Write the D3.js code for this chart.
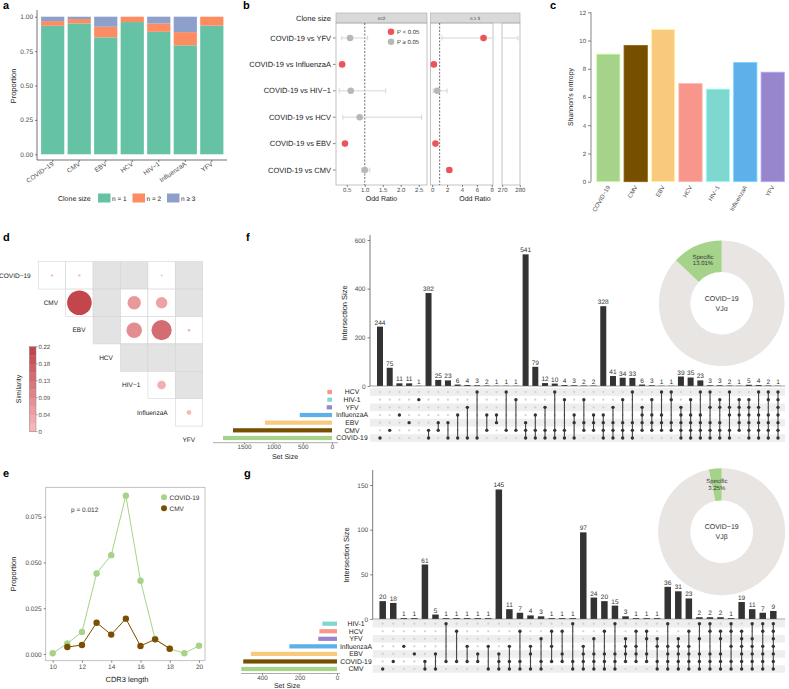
<!DOCTYPE html>
<html>
<head>
<meta charset="utf-8">
<script src="https://cdn.jsdelivr.net/npm/d3@7.9.0/dist/d3.min.js"></script>
<style>
  body { margin: 0; background: #fff; }
  svg { display: block; font-family: "Liberation Sans", Arial, sans-serif; text-rendering: geometricPrecision; -webkit-font-smoothing: antialiased; }
</style>
</head>
<body>
<svg id="fig" width="789" height="689"></svg>
<script>
// ---- data ----
const viruses = ['COVID-19', 'CMV', 'EBV', 'HCV', 'HIV-1', 'InfluenzaA', 'YFV'];
const virusLabels = ['COVID−19', 'CMV', 'EBV', 'HCV', 'HIV−1', 'InfluenzaA', 'YFV'];
const virusColors = ['#a6d38a', '#774f00', '#f9ca7d', '#f9968b', '#7fd8d0', '#5eb0ea', '#9886cd'];

// a: clone size proportions
const cloneN1 = [0.934, 0.951, 0.850, 0.961, 0.890, 0.792, 0.935];
const cloneN2 = [0.034, 0.032, 0.077, 0.039, 0.061, 0.096, 0.065];
const cloneN3 = [0.032, 0.017, 0.073, 0.000, 0.049, 0.112, 0.000];
const cloneKeys = ['n = 1', 'n = 2', 'n ≥ 3'];
const cloneColors = ['#66c2a5', '#fc8d62', '#8da0cb'];

// b: odd ratios
const orPairs = ['COVID-19 vs YFV', 'COVID-19 vs InfluenzaA', 'COVID-19 vs HIV−1',
  'COVID-19 vs HCV', 'COVID-19 vs EBV', 'COVID-19 vs CMV'];
const orN2 = [0.59, 0.37, 0.61, 0.86, 0.45, 1.00];
const orN2Lo = [0.36, 0.33, 0.29, 0.39, 0.41, 0.91];
const orN2Hi = [1.08, 0.42, 1.58, 2.58, 0.50, 1.14];
const orN2Sig = [false, true, false, false, true, false];
const orN3 = [6.9, 0.22, 0.67, null, 0.44, 2.3];
const orN3Lo = [1.3, 0.12, 0.13, null, 0.32, 2.0];
const orN3Hi = [279, 0.33, 2.0, null, 0.58, 2.6];
const orN3Sig = [true, true, false, null, true, true];

// c: Shannon entropy
const entropy = [9.04, 9.65, 10.78, 6.96, 6.56, 8.45, 7.76];

// d: similarity (upper triangle, row i starts at column i, null = not significant)
const simRows = ['COVID−19', 'CMV', 'EBV', 'HCV', 'HIV−1', 'InfluenzaA'];
const simCols = ['CMV', 'EBV', 'HCV', 'HIV−1', 'InfluenzaA', 'YFV'];
const simValues = [
  [0.002, 0.002, null, null, 0.001, null],
  [0.21, null, 0.063, 0.046, null],
  [null, 0.084, 0.141, 0.003],
  [null, null, null],
  [0.026, null],
  [0.008]
];
const simTicks = [0, 0.044, 0.088, 0.132, 0.176, 0.22];

// e: CDR3 length distribution
const cdr3Len = [10, 11, 12, 13, 14, 15, 16, 17, 18, 19, 20];
const cdr3Covid = [0.0004, 0.0058, 0.012, 0.044, 0.054, 0.0865, 0.040, 0.0082, 0.0029, 0.0004, 0.0045];
const cdr3CmvLen = [11, 12, 13, 14, 15, 16, 17, 18];
const cdr3Cmv = [0.0038, 0.0049, 0.0171, 0.0106, 0.0193, 0.0044, 0.008, 0.0029];

// f: UpSet VJα
const fSets = ['HCV', 'HIV-1', 'YFV', 'InfluenzaA', 'EBV', 'CMV', 'COVID-19'];
const fSetColors = ['#f9968b', '#7fd8d0', '#9886cd', '#5eb0ea', '#f9ca7d', '#774f00', '#a6d38a'];
const fSetSizes = [80, 80, 90, 550, 1145, 1690, 1860];
const fCounts = [244, 75, 11, 11, 1, 382, 25, 23, 6, 4, 3, 2, 1, 1, 1,
  541, 79, 12, 10, 4, 3, 2, 2, 328, 41, 34, 33, 6, 3, 1, 1,
  39, 35, 23, 3, 3, 2, 1, 5, 4, 2, 1];
const fMembers = ['6', '5', '3', '4', '1', '56', '45', '46', '36', '26', '06', '35', '34', '05', '15',
  '456', '356', '256', '056', '156', '346', '145', '345',
  '3456', '2456', '1456', '0456', '2345', '1345', '0345', '0145',
  '23456', '13456', '03456', '02456', '12456', '02356', '12345',
  '123456', '023456', '013456', '0123456'];

// g: UpSet VJβ
const gSets = ['HIV-1', 'HCV', 'YFV', 'InfluenzaA', 'EBV', 'COVID-19', 'CMV'];
const gSetColors = ['#7fd8d0', '#f9968b', '#9886cd', '#5eb0ea', '#f9ca7d', '#774f00', '#a6d38a'];
const gSetSizes = [78, 94, 100, 254, 459, 500, 510];
const gCounts = [20, 18, 1, 1, 61, 5, 1, 1, 1, 1, 1, 145, 11, 7, 4, 3, 1, 1, 1,
  97, 24, 20, 15, 3, 1, 1, 1, 36, 31, 23, 2, 2, 2, 1, 19, 11, 7, 9];
const gMembers = ['6', '5', '3', '4', '56', '46', '05', '15', '35', '45', '36',
  '456', '356', '156', '346', '256', '135', '145', '056',
  '3456', '2456', '1456', '0456', '2345', '1345', '1245', '2356',
  '03456', '23456', '13456', '02456', '01456', '12456', '01356',
  '123456', '023456', '013456', '0123456'];

const specificPct = [13.01, 3.25];

// ---- helpers ----
const svg = d3.select('#fig');
svg.append('rect').attr('width', 789).attr('height', 689).attr('fill', '#fff');
const TICK = '#4d4d4d';

function addText(parent, x, y, s, o = {}) {
  const t = parent.append('text').attr('x', x).attr('y', y).text(s)
    .attr('font-size', o.size || 7)
    .attr('fill', o.fill || '#1a1a1a')
    .attr('text-anchor', o.anchor || 'start');
  if (o.weight) t.attr('font-weight', o.weight);
  if (o.rotate != null) t.attr('transform', `rotate(${o.rotate},${x},${y})`);
  return t;
}

function styleAxis(sel, fs = 6.5) {
  sel.attr('font-family', null).attr('font-size', null);
  sel.selectAll('text').attr('font-size', fs).attr('fill', TICK);
  sel.selectAll('.tick line').attr('stroke', '#333').attr('stroke-width', 0.6);
  sel.select('.domain').remove();
  return sel;
}

function vline(parent, x, y1, y2, col = '#333', w = 0.7) {
  return parent.append('line').attr('x1', x).attr('x2', x).attr('y1', y1).attr('y2', y2)
    .attr('stroke', col).attr('stroke-width', w);
}
function hline(parent, y, x1, x2, col = '#333', w = 0.7) {
  return parent.append('line').attr('x1', x1).attr('x2', x2).attr('y1', y).attr('y2', y)
    .attr('stroke', col).attr('stroke-width', w);
}

// panel letters
[['a', 3, 9], ['b', 243, 9], ['c', 550, 9], ['d', 3, 241], ['f', 246, 241], ['e', 3, 477], ['g', 244, 477]]
  .forEach(([s, x, y]) => addText(svg, x, y, s, { size: 11, weight: 'bold', fill: '#000' }));

// ---- a: stacked clone size ----
{
  const g = svg.append('g');
  const x = d3.scaleBand().domain(viruses).range([39.5, 225]).paddingInner(0.125).paddingOuter(0.06);
  const y = d3.scaleLinear().domain([0, 1]).range([154.3, 16.7]);
  const table = viruses.map((v, i) => ({ v, 'n = 1': cloneN1[i], 'n = 2': cloneN2[i], 'n ≥ 3': cloneN3[i] }));
  const series = d3.stack().keys(cloneKeys)(table);
  g.selectAll('g.layer').data(series).join('g').attr('fill', (d, i) => cloneColors[i])
    .selectAll('rect').data(d => d.filter(p => p[1] - p[0] > 0)).join('rect')
    .attr('x', d => x(d.data.v)).attr('width', x.bandwidth())
    .attr('y', d => y(d[1])).attr('height', d => y(d[0]) - y(d[1]));

  const ay = g.append('g').attr('transform', 'translate(37,0)')
    .call(d3.axisLeft(y).tickValues([0, 0.25, 0.5, 0.75, 1]).tickFormat(d3.format('.2f')).tickSize(2).tickPadding(2));
  styleAxis(ay);
  vline(g, 37, 10, 160);
  hline(g, 160, 37, 227);
  viruses.forEach((v, i) => {
    const cx = x(v) + x.bandwidth() / 2;
    vline(g, cx, 160, 162, '#333', 0.6);
    addText(g, cx + 1.5, 165, virusLabels[i], { size: 6.5, fill: TICK, anchor: 'end', rotate: -35 });
  });
  addText(g, 16, 86, 'Proportion', { size: 7.5, anchor: 'middle', rotate: -90 });

  addText(g, 58, 201, 'Clone size', { size: 7 });
  const legX = [98, 132.5, 167];
  cloneKeys.forEach((k, i) => {
    g.append('rect').attr('x', legX[i]).attr('y', 193.5).attr('width', 12.5).attr('height', 9).attr('fill', cloneColors[i]);
    addText(g, legX[i] + 14, 201, k, { size: 6.5 });
  });
}

// ---- b: odd ratio forest ----
{
  const g = svg.append('g');
  const top = 23, bot = 185;
  const y = d3.scalePoint().domain(orPairs).range([38, 170]);
  const x1 = d3.scaleLinear().domain([0.2, 2.73]).range([336, 427]);
  const x2 = d3.scaleLinear().domain([-0.23, 8.17]).range([430.5, 493]);
  const x3 = d3.scaleLinear().domain([269.9, 280.1]).range([502, 520]);
  const red = '#ee5359', grey = '#b8b8b8', ci = '#d6d6d6';

  // strips and panel frames
  g.append('rect').attr('x', 336).attr('y', 13).attr('width', 91).attr('height', 10).attr('fill', '#d9d9d9').attr('stroke', '#b3b3b3').attr('stroke-width', 0.7);
  g.append('rect').attr('x', 430.5).attr('y', 13).attr('width', 89.5).attr('height', 10).attr('fill', '#d9d9d9').attr('stroke', '#b3b3b3').attr('stroke-width', 0.7);
  addText(g, 381.5, 19.8, 'n=2', { size: 4.5, anchor: 'middle', fill: '#333' });
  addText(g, 475, 19.8, 'n ≥ 3', { size: 4.5, anchor: 'middle', fill: '#333' });
  addText(g, 331, 21, 'Clone size', { size: 7.5, anchor: 'end' });
  [[336, 427], [430.5, 493], [502, 520]].forEach(([a, b]) =>
    g.append('rect').attr('x', a).attr('y', top).attr('width', b - a).attr('height', bot - top)
      .attr('fill', 'none').attr('stroke', '#b3b3b3').attr('stroke-width', 0.8));

  // row labels
  orPairs.forEach(p => {
    addText(g, 331, y(p) + 2.5, p, { size: 7.5, anchor: 'end' });
    hline(g, y(p), 333, 335.5, '#333', 0.6);
  });

  // dashed reference lines
  vline(g, x1(1), top, bot, '#333', 0.7).attr('stroke-dasharray', '2,1.5');
  vline(g, x2(1), top, bot, '#333', 0.7).attr('stroke-dasharray', '2,1.5');

  function errBar(xs, lo, hi, yy) {
    hline(g, yy, xs(lo), xs(hi), ci, 1);
    vline(g, xs(lo), yy - 2.5, yy + 2.5, ci, 1);
    vline(g, xs(hi), yy - 2.5, yy + 2.5, ci, 1);
  }
  orPairs.forEach((p, i) => {
    const yy = y(p);
    errBar(x1, orN2Lo[i], orN2Hi[i], yy);
    g.append('circle').attr('cx', x1(orN2[i])).attr('cy', yy).attr('r', 3.3).attr('fill', orN2Sig[i] ? red : grey);
    if (orN3[i] != null) {
      if (orN3Hi[i] > 8.17) {
        hline(g, yy, x2(orN3Lo[i]), 493, ci, 1);
        vline(g, x2(orN3Lo[i]), yy - 2.5, yy + 2.5, ci, 1);
        hline(g, yy, 502, x3(orN3Hi[i]), ci, 1);
        vline(g, x3(orN3Hi[i]), yy - 2.5, yy + 2.5, ci, 1);
      } else {
        errBar(x2, orN3Lo[i], orN3Hi[i], yy);
      }
      g.append('circle').attr('cx', x2(orN3[i])).attr('cy', yy).attr('r', 3.3).attr('fill', orN3Sig[i] ? red : grey);
    }
  });

  // legend
  g.append('circle').attr('cx', 391).attr('cy', 31.7).attr('r', 3.3).attr('fill', red);
  addText(g, 397, 34, 'P < 0.05', { size: 6, fill: '#333' });
  g.append('circle').attr('cx', 391).attr('cy', 41.7).attr('r', 3.3).attr('fill', grey);
  addText(g, 397, 44, 'P ≥ 0.05', { size: 6, fill: '#333' });

  // x axes
  const a1 = g.append('g').attr('transform', `translate(0,${bot})`).call(d3.axisBottom(x1).tickValues([0.5, 1, 1.5, 2, 2.5]).tickFormat(d3.format('.1f')).tickSize(2).tickPadding(1));
  const a2 = g.append('g').attr('transform', `translate(0,${bot})`).call(d3.axisBottom(x2).tickValues([0, 2, 4, 6, 8]).tickSize(2).tickPadding(1));
  const a3 = g.append('g').attr('transform', `translate(0,${bot})`).call(d3.axisBottom(x3).tickValues([270, 280]).tickSize(2).tickPadding(1));
  [a1, a2, a3].forEach(a => styleAxis(a, 6));
  addText(g, 381.5, 200.5, 'Odd Ratio', { size: 7, anchor: 'middle' });
  addText(g, 475, 200.5, 'Odd Ratio', { size: 7, anchor: 'middle' });
}

// ---- c: Shannon entropy bars ----
{
  const g = svg.append('g');
  const x = d3.scaleBand().domain(viruses).range([594.6, 786.4]).paddingInner(0.15).paddingOuter(0.075);
  const y = d3.scaleLinear().domain([0, 12]).range([181.7, 12.3]);
  g.selectAll('rect').data(entropy).join('rect')
    .attr('x', (d, i) => x(viruses[i])).attr('width', x.bandwidth())
    .attr('y', d => y(d)).attr('height', d => y(0) - y(d))
    .attr('fill', (d, i) => virusColors[i])
    .attr('stroke', (d, i) => d3.color(virusColors[i]).brighter(0.6)).attr('stroke-width', 0.8);
  const ay = g.append('g').attr('transform', 'translate(591,0)')
    .call(d3.axisLeft(y).tickValues(d3.range(0, 13, 2)).tickSize(3).tickPadding(2));
  styleAxis(ay, 6);
  vline(g, 591, 12.3, 181.7, '#555', 0.7);
  viruses.forEach((v, i) => {
    addText(g, x(v) + x.bandwidth() / 2 + 2, 187, virusLabels[i], { size: 6, fill: TICK, anchor: 'end', rotate: -60 });
  });
  addText(g, 573, 97, "Shannon's entropy", { size: 7, anchor: 'middle', rotate: -90 });
}

// ---- d: similarity triangle ----
{
  const g = svg.append('g');
  const cx = d3.scaleBand().domain(simCols).range([38.3, 202.7]);
  const ry = d3.scaleBand().domain(simRows).range([261.7, 426.1]);
  const s = cx.bandwidth();
  const col = d3.scaleLinear().domain([0, 0.22]).range(['#f9bdbf', '#bf4046']);
  const rad = d3.scaleSqrt().domain([0, 0.22]).range([0, 12.6]);
  simRows.forEach((r, i) => {
    simValues[i].forEach((v, k) => {
      const c = simCols[i + k];
      g.append('rect').attr('x', cx(c)).attr('y', ry(r)).attr('width', s).attr('height', s)
        .attr('fill', v == null ? '#e3e3e3' : '#fff').attr('stroke', '#d4d4d4').attr('stroke-width', 0.6);
      if (v != null) {
        g.append('circle').attr('cx', cx(c) + s / 2).attr('cy', ry(r) + s / 2)
          .attr('r', Math.max(rad(v), 0.9)).attr('fill', col(v));
      }
    });
  });
  // diagonal labels
  const diag = ['COVID−19', 'CMV', 'EBV', 'HCV', 'HIV−1', 'InfluenzaA', 'YFV'];
  diag.forEach((lab, i) => {
    const right = 38.3 + s * i - 7.6;
    addText(g, right, 261.7 + s * i + s / 2 + 2.2, lab, { size: 6.5, anchor: 'end' });
  });
  // colorbar
  const cb = d3.scaleLinear().domain([0, 0.22]).range([431.7, 346.7]);
  const steps = d3.range(0, 0.22, 0.022);
  steps.forEach(v => {
    g.append('rect').attr('x', 29.3).attr('width', 6.7).attr('y', cb(v + 0.022)).attr('height', cb(v) - cb(v + 0.022) + 0.3)
      .attr('fill', col(v + 0.011));
  });
  g.append('rect').attr('x', 29.3).attr('y', 346.7).attr('width', 6.7).attr('height', 85).attr('fill', 'none').attr('stroke', '#888').attr('stroke-width', 0.5);
  simTicks.forEach(t => {
    hline(g, cb(t), 36, 37.5, '#555', 0.5);
    addText(g, 38.5, cb(t) + 2.2, t === 0 ? '0' : d3.format('.2f')(t), { size: 6, fill: TICK });
  });
  addText(g, 21, 389, 'Similarity', { size: 7, anchor: 'middle', rotate: -90 });
}

// ---- e: CDR3 length ----
{
  const g = svg.append('g');
  const x = d3.scaleLinear().domain([10, 20]).range([52.7, 199]);
  const y = d3.scaleLinear().domain([0, 0.075]).range([654, 516.7]);
  const green = '#a6d38a', brown = '#7b4f00';
  g.append('rect').attr('x', 45.7).attr('y', 487.3).attr('width', 159.3).attr('height', 173.4)
    .attr('fill', 'none').attr('stroke', '#b3b3b3').attr('stroke-width', 0.8);
  const line = d3.line().x(d => x(d[0])).y(d => y(d[1]));
  const covid = cdr3Len.map((l, i) => [l, cdr3Covid[i]]);
  const cmv = cdr3CmvLen.map((l, i) => [l, cdr3Cmv[i]]);
  g.append('path').attr('d', line(covid)).attr('fill', 'none').attr('stroke', green).attr('stroke-width', 1);
  g.selectAll('circle.cv').data(covid).join('circle').attr('cx', d => x(d[0])).attr('cy', d => y(d[1])).attr('r', 3.2).attr('fill', green);
  g.append('path').attr('d', line(cmv)).attr('fill', 'none').attr('stroke', brown).attr('stroke-width', 1);
  g.selectAll('circle.cm').data(cmv).join('circle').attr('cx', d => x(d[0])).attr('cy', d => y(d[1])).attr('r', 3.2).attr('fill', brown);

  const ax = g.append('g').attr('transform', 'translate(0,660.7)')
    .call(d3.axisBottom(x).tickValues(d3.range(10, 21, 2)).tickSize(2).tickPadding(2));
  const ay = g.append('g').attr('transform', 'translate(45.7,0)')
    .call(d3.axisLeft(y).tickValues([0, 0.025, 0.05, 0.075]).tickFormat(d3.format('.3f')).tickSize(2).tickPadding(2));
  styleAxis(ax); styleAxis(ay);
  addText(g, 127, 682, 'CDR3 length', { size: 7.5, anchor: 'middle' });
  addText(g, 16, 574, 'Proportion', { size: 7.5, anchor: 'middle', rotate: -90 });
  addText(g, 71, 511.5, 'p = 0.012', { size: 6.5, fill: '#333' });
  g.append('circle').attr('cx', 164).attr('cy', 497.3).attr('r', 3).attr('fill', green);
  addText(g, 169.5, 499.7, 'COVID-19', { size: 6.5, fill: '#333' });
  g.append('circle').attr('cx', 164).attr('cy', 508.3).attr('r', 3).attr('fill', brown);
  addText(g, 169.5, 510.7, 'CMV', { size: 6.5, fill: '#333' });
}

// ---- f / g: UpSet plots ----
function drawUpset(o) {
  const g = svg.append('g');
  const x = d3.scalePoint().domain(d3.range(o.counts.length)).range(o.xRange);
  const y = d3.scaleLinear().domain([0, o.yMax]).range([o.base, o.yTop]);
  const row = d3.scalePoint().domain(o.sets).range(o.rowRange);
  const rh = (o.rowRange[1] - o.rowRange[0]) / (o.sets.length - 1);
  const sx = d3.scaleLinear().domain(o.setDomain).range([o.setZero, o.setZero - (o.setDomain[1]) * o.setPx]);

  // row shading
  o.sets.forEach((s, i) => {
    if (i % 2 === 0) g.append('rect').attr('x', o.shade[0]).attr('width', o.shade[1] - o.shade[0])
      .attr('y', row(s) - rh / 2).attr('height', rh).attr('fill', '#eeeeee');
  });

  // intersection bars
  const bw = o.barW;
  g.selectAll('rect.bar').data(o.counts).join('rect').attr('class', 'bar')
    .attr('x', (d, i) => x(i) - bw / 2).attr('width', bw)
    .attr('y', d => y(d)).attr('height', d => o.base - y(d)).attr('fill', '#333');
  g.selectAll('text.num').data(o.counts).join('text').attr('class', 'num')
    .attr('x', (d, i) => x(i)).attr('y', d => y(d) - 2).attr('text-anchor', 'middle')
    .attr('font-size', 6.5).attr('fill', '#333').text(d => d);

  const ay = g.append('g').attr('transform', `translate(${o.axisX},0)`)
    .call(d3.axisLeft(y).tickValues(o.yTicks).tickSize(2.5).tickPadding(2));
  styleAxis(ay);
  vline(g, o.axisX, o.axisTop, o.base, '#444', 0.7);
  hline(g, o.base, o.axisX, o.shade[1], '#666', 0.6);
  addText(g, o.yTitle[0], o.yTitle[1], 'Intersection Size', { size: 7.5, anchor: 'middle', rotate: -90 });

  // matrix
  o.members.forEach((m, i) => {
    const idx = m.split('').map(Number);
    o.sets.forEach((s, k) => {
      if (!idx.includes(k)) g.append('circle').attr('cx', x(i)).attr('cy', row(s)).attr('r', 1.1).attr('fill', '#cfcfcf');
    });
    if (idx.length > 1) {
      vline(g, x(i), row(o.sets[d3.min(idx)]), row(o.sets[d3.max(idx)]), '#444', 1.1);
    }
    idx.forEach(k => g.append('circle').attr('cx', x(i)).attr('cy', row(o.sets[k])).attr('r', 1.7).attr('fill', '#333'));
  });

  // set sizes
  o.sets.forEach((s, k) => {
    g.append('rect').attr('x', sx(o.sizes[k])).attr('width', o.setZero - sx(o.sizes[k]))
      .attr('y', row(s) - 2.1).attr('height', 4.2).attr('fill', o.colors[k]);
    addText(g, o.labelX, row(s) + 2.3, s, { size: 6.8, anchor: 'middle' });
  });
  const as = g.append('g').attr('transform', `translate(0,${o.setAxisY})`)
    .call(d3.axisBottom(sx).tickValues(o.setTicks).tickFormat(d3.format('d')).tickSize(1.5).tickPadding(0.5));
  styleAxis(as, 6.3);
  hline(g, o.setAxisY, o.setAxisX[0], o.setAxisX[1], '#888', 0.7);
  addText(g, o.setTitle[0], o.setTitle[1], 'Set Size', { size: 7, anchor: 'middle' });

  // donut
  const pie = d3.pie().sort(null).value(d => d);
  const arc = d3.arc().innerRadius(o.donutR[0]).outerRadius(o.donutR[1]);
  const arcs = pie([100 - o.pct, o.pct]);
  const dg = g.append('g').attr('transform', `translate(${o.donutC[0]},${o.donutC[1]})`);
  dg.selectAll('path').data(arcs).join('path').attr('d', arc)
    .attr('fill', (d, i) => i === 1 ? '#a6d38a' : '#e8e5e3');
  const c = arc.centroid(arcs[1]);
  addText(dg, c[0], c[1] - 1.5, 'Specific', { size: 6, anchor: 'middle', fill: '#333' });
  addText(dg, c[0], c[1] + 5, d3.format('.2f')(o.pct) + '%', { size: 6, anchor: 'middle', fill: '#333' });
  addText(dg, 0, -2.5, 'COVID−19', { size: 7, anchor: 'middle', fill: '#333' });
  addText(dg, 0, 7.5, o.chain, { size: 7, anchor: 'middle', fill: '#333' });
}

drawUpset({
  sets: fSets, colors: fSetColors, sizes: fSetSizes, counts: fCounts, members: fMembers,
  xRange: [380, 778], barW: 6, base: 386, yMax: 600, yTop: 240, yTicks: [0, 200, 400, 600],
  axisX: 370, axisTop: 235, rowRange: [392, 438], shade: [370, 785],
  setZero: 332, setPx: 0.0586, setDomain: [0, 1500], setTicks: [0, 500, 1000, 1500],
  setAxisY: 442.7, setAxisX: [213, 338], labelX: 352, yTitle: [347, 313], setTitle: [285, 458.5],
  donutC: [721.7, 303.3], donutR: [31.3, 62.8], pct: specificPct[0], chain: 'VJα'
});

drawUpset({
  sets: gSets, colors: gSetColors, sizes: gSetSizes, counts: gCounts, members: gMembers,
  xRange: [382.7, 773.3], barW: 6.5, base: 619, yMax: 150, yTop: 485, yTicks: [0, 50, 100, 150],
  axisX: 372.7, axisTop: 470, rowRange: [623.7, 669], shade: [372.7, 785],
  setZero: 337, setPx: 0.1875, setDomain: [0, 400], setTicks: [0, 200, 400],
  setAxisY: 673.5, setAxisX: [241, 340], labelX: 356, yTitle: [349, 555], setTitle: [287, 688.3],
  donutC: [721.7, 531.7], donutR: [31.3, 63.5], pct: specificPct[1], chain: 'VJβ'
});
</script>
</body>
</html>
